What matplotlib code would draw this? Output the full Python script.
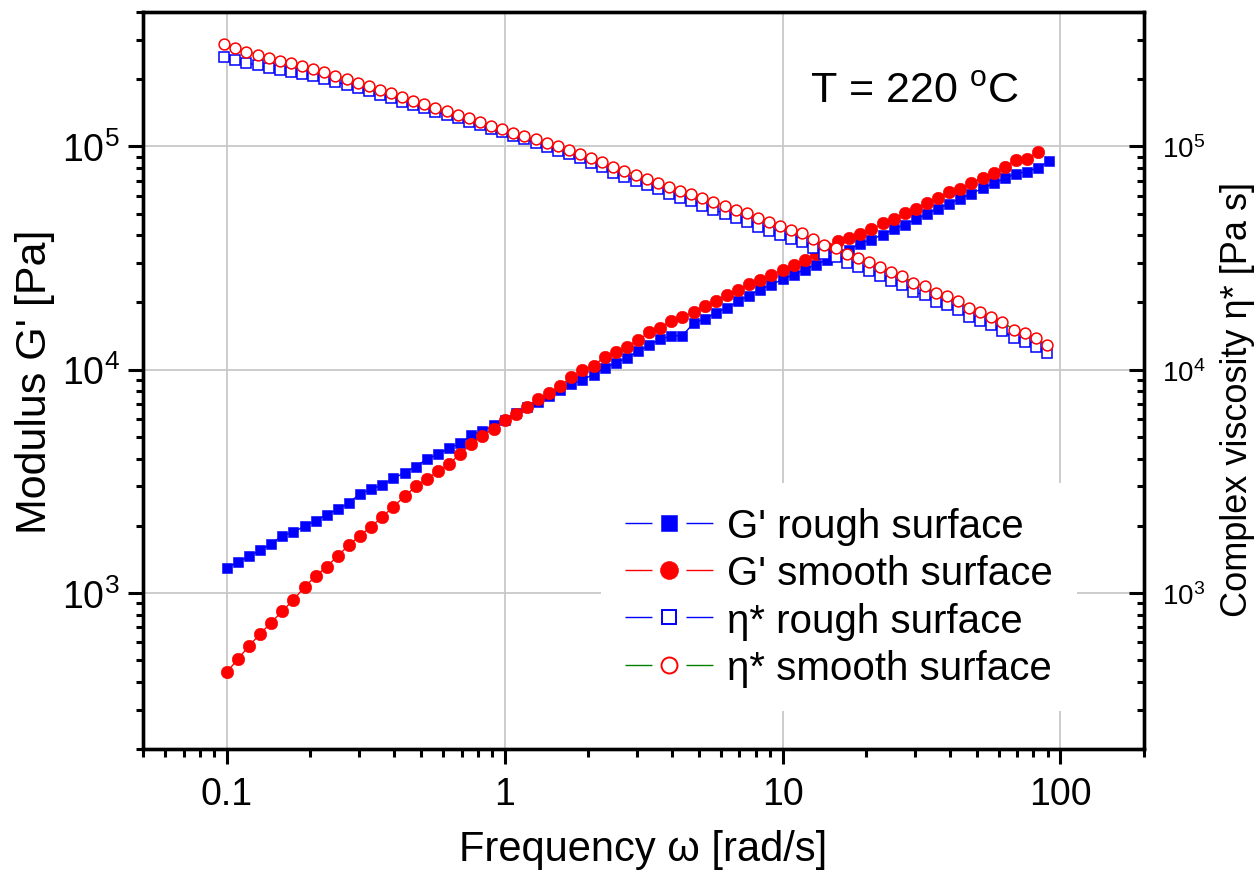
import matplotlib
matplotlib.use('Agg')
import matplotlib.pyplot as plt
from matplotlib.lines import Line2D
from matplotlib.ticker import FixedLocator, FixedFormatter, LogLocator, NullFormatter

plt.rcParams['font.family'] = ['Liberation Sans', 'DejaVu Sans']
plt.rcParams['mathtext.fontset'] = 'custom'
plt.rcParams['mathtext.rm'] = 'Liberation Sans'
plt.rcParams['mathtext.it'] = 'Liberation Sans:italic'
plt.rcParams['mathtext.bf'] = 'Liberation Sans:bold'

# angular frequency of the G' sweep [rad/s]
freq = [0.1, 0.1096, 0.1202, 0.1318, 0.1445, 0.1585, 0.1738, 0.1905, 0.2089, 0.2291,
        0.2512, 0.2754, 0.3020, 0.3311, 0.3631, 0.3981, 0.4365, 0.4786, 0.5248, 0.5754,
        0.6310, 0.6918, 0.7586, 0.8318, 0.9120, 1.0, 1.096, 1.202, 1.318, 1.445,
        1.585, 1.738, 1.905, 2.089, 2.291, 2.512, 2.754, 3.020, 3.311, 3.631,
        3.981, 4.365, 4.786, 5.248, 5.754, 6.310, 6.918, 7.586, 8.318, 9.120,
        10.0, 10.96, 12.02, 13.18, 14.45, 15.85, 17.38, 19.05, 20.89, 22.91,
        25.12, 27.54, 30.20, 33.11, 36.31, 39.81, 43.65, 47.86, 52.48, 57.54,
        63.10, 69.18, 75.86, 83.18, 91.20]

# frequency of the eta* sweep [rad/s]
freq_eta = [0.098, 0.1074, 0.1178, 0.1292, 0.1416, 0.1553, 0.1703, 0.1867, 0.2047, 0.2245,
            0.2462, 0.2699, 0.2960, 0.3245, 0.3558, 0.3901, 0.4278, 0.4690, 0.5143, 0.5639,
            0.6184, 0.6780, 0.7434, 0.8152, 0.8938, 0.98, 1.074, 1.178, 1.292, 1.416,
            1.553, 1.703, 1.867, 2.047, 2.245, 2.462, 2.699, 2.960, 3.245, 3.558,
            3.901, 4.278, 4.690, 5.143, 5.639, 6.184, 6.780, 7.434, 8.152, 8.938,
            9.80, 10.74, 11.78, 12.92, 14.16, 15.53, 17.03, 18.67, 20.47, 22.45,
            24.62, 26.99, 29.60, 32.45, 35.58, 39.01, 42.78, 46.90, 51.43, 56.39,
            61.84, 67.80, 74.34, 81.52, 89.38]

g_rough = [1291, 1374, 1459, 1552, 1656, 1807, 1871, 1991, 2109, 2244,
           2366, 2535, 2780, 2911, 3055, 3258, 3459, 3681, 3972, 4178,
           4446, 4677, 5082, 5321, 5636, 5943, 6383, 6839, 7178, 7638,
           8128, 8630, 9016, 9506, 10190, 10720, 11270, 12080, 12850, 13700,
           14150, 14200, 16180, 16870, 17950, 18920, 20230, 21480, 22860, 24040,
           25350, 26670, 28050, 29580, 31120, 32810, 34510, 36730, 38280, 40270,
           42460, 44670, 47100, 49890, 52600, 55460, 58210, 61520, 64860, 68230,
           71940, 75510, 77090, 80170, 85900]

g_smooth = [441, 505, 578, 655, 736, 830, 931, 1062, 1189, 1312,
            1466, 1641, 1807, 1982, 2193, 2438, 2704, 2999, 3236, 3499,
            3784, 4188, 4656, 5070, 5420, 5970, 6353, 6839, 7396, 7852,
            8492, 9247, 9954, 10420, 11400, 11990, 12590, 13520, 14690, 15380,
            16600, 17220, 18160, 19230, 20230, 21530, 22860, 24210, 25230, 26610,
            28050, 29580, 31120, 32810, 35160, 37580, 38990, 40640, 42460, 45190,
            47420, 50120, 52600, 55980, 58880, 62370, 64570, 68710, 72440, 76210,
            81100, 86500, 88100, 94190]

eta_rough = [252300, 243200, 236600, 231200, 225400, 220300, 215800, 211300, 206500, 200900,
             194500, 188400, 182400, 176200, 170200, 164400, 158900, 153500, 148300, 143200,
             138400, 133700, 129100, 124700, 120200, 116100, 111900, 107600, 103800, 99540,
             95720, 92040, 88310, 83950, 80540, 76210, 72950, 70310, 67140, 64270,
             61380, 59020, 56750, 54330, 52120, 50000, 47860, 46030, 43650, 41880,
             40090, 38460, 37150, 35160, 32960, 31840, 29920, 28970, 27610, 26300,
             25000, 23930, 22340, 21580, 20140, 19450, 18450, 17260, 16600, 15780,
             14960, 13840, 13370, 12680, 11890]

eta_smooth = [288400, 275400, 266100, 257600, 249500, 242100, 235500, 229100, 222300, 215300,
              207500, 200000, 192800, 185800, 179100, 172600, 166300, 160300, 154500, 148900,
              143500, 138400, 133400, 128500, 123900, 119400, 115300, 111200, 107400, 103500,
              100000, 96380, 92680, 88310, 85110, 80720, 77450, 74820, 71610, 68710,
              65770, 63390, 61090, 58610, 56490, 54330, 52120, 50230, 47750, 45810,
              43950, 42170, 40740, 38550, 36140, 34910, 32810, 31770, 30270, 28840,
              27420, 26240, 24490, 23660, 22080, 21330, 20230, 18920, 18200, 17300,
              16410, 15100, 14590, 13840, 12910]

labels = ["G' rough surface", "G' smooth surface", "\u03b7* rough surface", "\u03b7* smooth surface"]

fig = plt.figure(figsize=(12.55, 8.79), dpi=100)
ax = fig.add_axes([0.114, 0.1468, 0.7976, 0.8384])
ax.set_xscale('log')
ax.set_yscale('log')

ax.plot(freq, g_rough, color='blue', lw=1, marker='s', ms=7.6, mfc='blue', mec='blue', mew=0.4)
ax.plot(freq[:len(g_smooth)], g_smooth, color='red', lw=1, marker='o', ms=9.0, mfc='red', mec='red', mew=0.4)
ax.plot(freq_eta, eta_rough, color='blue', lw=1, marker='s', ms=7.4, mfc='white', mec='blue', mew=1.1)
ax.plot(freq_eta, eta_smooth, color='green', lw=1, marker='o', ms=7.8, mfc='white', mec='red', mew=1.1)

ax.set_xlim(0.05, 200)
ax.set_ylim(200, 4e5)

ax.xaxis.set_major_locator(FixedLocator([0.1, 1, 10, 100]))
ax.xaxis.set_major_formatter(FixedFormatter(['0.1', '1', '10', '100']))
ax.xaxis.set_minor_locator(LogLocator(base=10, subs=range(2, 10), numticks=20))
ax.xaxis.set_minor_formatter(NullFormatter())
ax.yaxis.set_major_locator(FixedLocator([1e3, 1e4, 1e5]))
ax.yaxis.set_minor_locator(LogLocator(base=10, subs=range(2, 10), numticks=20))
ax.yaxis.set_minor_formatter(NullFormatter())

ax.grid(which='major', color='#c8c8c8', lw=1.3)
ax.set_axisbelow(True)

ax.tick_params(which='major', direction='out', length=10.8, width=2.2, labelsize=27, pad=6)
ax.tick_params(which='minor', direction='out', length=5.4, width=2.2)
ax.tick_params(axis='x', which='major', pad=9)
for s in ax.spines.values():
    s.set_linewidth(2.4)

ax2 = ax.twinx()
ax2.set_yscale('log')
ax2.set_ylim(200, 4e5)
ax2.yaxis.set_major_locator(FixedLocator([1e3, 1e4, 1e5]))
ax2.yaxis.set_minor_locator(LogLocator(base=10, subs=range(2, 10), numticks=20))
ax2.yaxis.set_minor_formatter(NullFormatter())
ax2.tick_params(which='major', direction='in', length=10.8, width=2.2, labelsize=20, pad=13)
ax2.tick_params(which='minor', direction='in', length=5.4, width=2.2)
for s in ax2.spines.values():
    s.set_linewidth(2.4)

ax.set_xlabel('Frequency \u03c9 [rad/s]', fontsize=30, labelpad=12)
ax.set_ylabel("Modulus G' [Pa]", fontsize=31)
ax.yaxis.set_label_coords(-0.088, 0.5)
ax2.set_ylabel('Complex viscosity \u03b7* [Pa s]', fontsize=26)
ax2.yaxis.set_label_coords(1.076, 0.475)

fig.text(810 / 1255, 1 - 103 / 879, 'T = 220 $^{\\mathrm{o}}$C', fontsize=31, va='baseline')

dash = (0, (19.4, 24.5, 19.4, 200))
handles = [
    Line2D([], [], color='blue', lw=1, linestyle=dash, marker='s', ms=11, mfc='blue', mec='blue', mew=0.4),
    Line2D([], [], color='red', lw=1, linestyle=dash, marker='o', ms=13, mfc='red', mec='red', mew=0.4),
    Line2D([], [], color='blue', lw=1, linestyle=dash, marker='s', ms=10, mfc='white', mec='blue', mew=1.4),
    Line2D([], [], color='green', lw=1, linestyle=dash, marker='o', ms=11.5, mfc='white', mec='red', mew=1.4),
]
leg = ax.legend(handles, labels, loc='lower right', bbox_to_anchor=(1077 / 1255, 1 - 712 / 879),
                bbox_transform=fig.transFigure, borderaxespad=0, fontsize=29, handlelength=2.19,
                handletextpad=0.35, borderpad=0.6, labelspacing=0.23, frameon=True,
                fancybox=False, edgecolor='none', facecolor='white', framealpha=1)

fig.savefig('out.png', dpi=100)
